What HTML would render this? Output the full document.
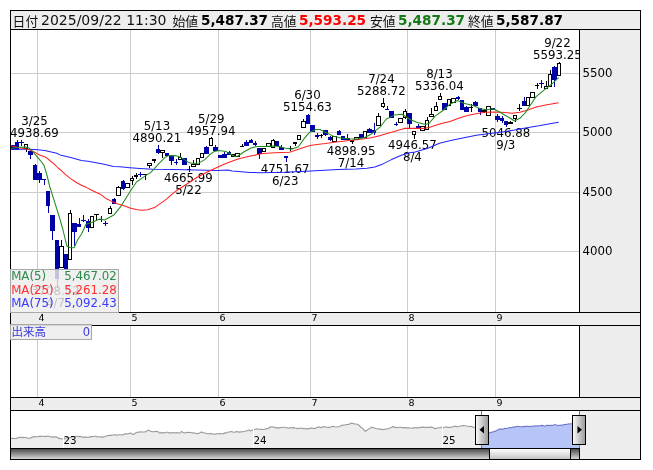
<!DOCTYPE html><html><head><meta charset="utf-8"><title>chart</title><style>html,body{margin:0;padding:0;background:#fff;width:653px;height:470px;overflow:hidden}svg{position:absolute;left:0;top:0;display:block}text{white-space:pre}</style></head><body>
<svg width="653" height="470" viewBox="0 0 653 470">
<defs><clipPath id="cp"><rect x="11" y="30" width="568" height="282"/></clipPath><clipPath id="cpn"><rect x="11" y="411" width="568" height="37"/></clipPath><linearGradient id="gsb" x1="0" y1="0" x2="0" y2="1"><stop offset="0" stop-color="#4a4a4a"/><stop offset="1" stop-color="#d8d8d8"/></linearGradient><linearGradient id="gth" x1="0" y1="0" x2="0" y2="1"><stop offset="0" stop-color="#ffffff"/><stop offset="1" stop-color="#c4c4c4"/></linearGradient><linearGradient id="ghd" x1="0" y1="0" x2="1" y2="0"><stop offset="0" stop-color="#f8f8f8"/><stop offset="1" stop-color="#9c9c9c"/></linearGradient></defs>
<g shape-rendering="crispEdges">
<rect x="11" y="11" width="629" height="18" fill="#ededed"/>
<rect x="11" y="30" width="568" height="282" fill="#fff"/>
<rect x="580" y="30" width="60" height="282" fill="#ededed"/>
<rect x="11" y="313" width="629" height="12" fill="#ededed"/>
<rect x="11" y="326" width="568" height="71" fill="#fff"/>
<rect x="580" y="326" width="60" height="71" fill="#ededed"/>
<rect x="11" y="398" width="629" height="12" fill="#ededed"/>
<rect x="11" y="411" width="568" height="37" fill="#fff"/>
<rect x="580" y="411" width="60" height="48" fill="#ededed"/>
<rect x="37" y="30" width="1" height="282" fill="#cccccc"/>
<rect x="37" y="326" width="1" height="71" fill="#cccccc"/>
<rect x="130" y="30" width="1" height="282" fill="#cccccc"/>
<rect x="130" y="326" width="1" height="71" fill="#cccccc"/>
<rect x="218" y="30" width="1" height="282" fill="#cccccc"/>
<rect x="218" y="326" width="1" height="71" fill="#cccccc"/>
<rect x="310" y="30" width="1" height="282" fill="#cccccc"/>
<rect x="310" y="326" width="1" height="71" fill="#cccccc"/>
<rect x="407" y="30" width="1" height="282" fill="#cccccc"/>
<rect x="407" y="326" width="1" height="71" fill="#cccccc"/>
<rect x="495" y="30" width="1" height="282" fill="#cccccc"/>
<rect x="495" y="326" width="1" height="71" fill="#cccccc"/>
<rect x="11" y="73" width="568" height="1" fill="#cccccc"/>
<rect x="11" y="132" width="568" height="1" fill="#cccccc"/>
<rect x="11" y="192" width="568" height="1" fill="#cccccc"/>
<rect x="11" y="251" width="568" height="1" fill="#cccccc"/>
</g>
<g clip-path="url(#cp)">
<text x="34.5" y="124.9" font-family="'DejaVu Sans', 'Liberation Sans', sans-serif" font-size="11.8" fill="#000" text-anchor="middle">3/25</text>
<text x="34.5" y="136.9" font-family="'DejaVu Sans', 'Liberation Sans', sans-serif" font-size="11.8" fill="#000" text-anchor="middle">4938.69</text>
<text x="156.9" y="130.2" font-family="'DejaVu Sans', 'Liberation Sans', sans-serif" font-size="11.8" fill="#000" text-anchor="middle">5/13</text>
<text x="156.9" y="142.2" font-family="'DejaVu Sans', 'Liberation Sans', sans-serif" font-size="11.8" fill="#000" text-anchor="middle">4890.21</text>
<text x="211.2" y="122.7" font-family="'DejaVu Sans', 'Liberation Sans', sans-serif" font-size="11.8" fill="#000" text-anchor="middle">5/29</text>
<text x="211.2" y="134.7" font-family="'DejaVu Sans', 'Liberation Sans', sans-serif" font-size="11.8" fill="#000" text-anchor="middle">4957.94</text>
<text x="307.4" y="99.1" font-family="'DejaVu Sans', 'Liberation Sans', sans-serif" font-size="11.8" fill="#000" text-anchor="middle">6/30</text>
<text x="307.4" y="111.1" font-family="'DejaVu Sans', 'Liberation Sans', sans-serif" font-size="11.8" fill="#000" text-anchor="middle">5154.63</text>
<text x="381.4" y="83.3" font-family="'DejaVu Sans', 'Liberation Sans', sans-serif" font-size="11.8" fill="#000" text-anchor="middle">7/24</text>
<text x="381.4" y="95.3" font-family="'DejaVu Sans', 'Liberation Sans', sans-serif" font-size="11.8" fill="#000" text-anchor="middle">5288.72</text>
<text x="439.4" y="78.2" font-family="'DejaVu Sans', 'Liberation Sans', sans-serif" font-size="11.8" fill="#000" text-anchor="middle">8/13</text>
<text x="439.4" y="90.2" font-family="'DejaVu Sans', 'Liberation Sans', sans-serif" font-size="11.8" fill="#000" text-anchor="middle">5336.04</text>
<text x="557.4" y="47.2" font-family="'DejaVu Sans', 'Liberation Sans', sans-serif" font-size="11.8" fill="#000" text-anchor="middle">9/22</text>
<text x="557.4" y="59.2" font-family="'DejaVu Sans', 'Liberation Sans', sans-serif" font-size="11.8" fill="#000" text-anchor="middle">5593.25</text>
<text x="188.4" y="182.4" font-family="'DejaVu Sans', 'Liberation Sans', sans-serif" font-size="11.8" fill="#000" text-anchor="middle">4665.99</text>
<text x="188.4" y="194.4" font-family="'DejaVu Sans', 'Liberation Sans', sans-serif" font-size="11.8" fill="#000" text-anchor="middle">5/22</text>
<text x="285.2" y="172.5" font-family="'DejaVu Sans', 'Liberation Sans', sans-serif" font-size="11.8" fill="#000" text-anchor="middle">4751.67</text>
<text x="285.2" y="184.5" font-family="'DejaVu Sans', 'Liberation Sans', sans-serif" font-size="11.8" fill="#000" text-anchor="middle">6/23</text>
<text x="351.1" y="154.5" font-family="'DejaVu Sans', 'Liberation Sans', sans-serif" font-size="11.8" fill="#000" text-anchor="middle">4898.95</text>
<text x="351.1" y="166.5" font-family="'DejaVu Sans', 'Liberation Sans', sans-serif" font-size="11.8" fill="#000" text-anchor="middle">7/14</text>
<text x="412.4" y="148.9" font-family="'DejaVu Sans', 'Liberation Sans', sans-serif" font-size="11.8" fill="#000" text-anchor="middle">4946.57</text>
<text x="412.4" y="160.9" font-family="'DejaVu Sans', 'Liberation Sans', sans-serif" font-size="11.8" fill="#000" text-anchor="middle">8/4</text>
<text x="505.8" y="136.8" font-family="'DejaVu Sans', 'Liberation Sans', sans-serif" font-size="11.8" fill="#000" text-anchor="middle">5046.88</text>
<text x="505.8" y="148.8" font-family="'DejaVu Sans', 'Liberation Sans', sans-serif" font-size="11.8" fill="#000" text-anchor="middle">9/3</text>
<text x="55.5" y="295.0" font-family="'DejaVu Sans', 'Liberation Sans', sans-serif" font-size="11.8" fill="#000" text-anchor="middle">3708.52</text>
<text x="55.5" y="307.0" font-family="'DejaVu Sans', 'Liberation Sans', sans-serif" font-size="11.8" fill="#000" text-anchor="middle">4/7</text>
<g shape-rendering="crispEdges">
<rect x="11" y="145" width="4" height="5" fill="#0000a8"/>
<rect x="17" y="140" width="1" height="2" fill="#0000a8"/>
<rect x="15" y="142" width="4" height="8" fill="#0000a8"/>
<rect x="21" y="140" width="1" height="2" fill="#0000a8"/>
<rect x="21" y="143" width="1" height="3" fill="#0000a8"/>
<rect x="19" y="142" width="5" height="1" fill="#0000a8"/>
<rect x="26" y="149" width="1" height="3" fill="#000"/>
<rect x="24" y="144" width="4" height="5" fill="#000"/>
<rect x="25" y="145" width="2" height="3" fill="#fff"/>
<rect x="30" y="155" width="1" height="4" fill="#0000a8"/>
<rect x="28" y="151" width="5" height="4" fill="#0000a8"/>
<rect x="35" y="164" width="1" height="1" fill="#0000a8"/>
<rect x="33" y="165" width="4" height="15" fill="#0000a8"/>
<rect x="39" y="171" width="1" height="2" fill="#0000a8"/>
<rect x="39" y="180" width="1" height="3" fill="#0000a8"/>
<rect x="37" y="173" width="5" height="7" fill="#0000a8"/>
<rect x="44" y="180" width="1" height="5" fill="#0000a8"/>
<rect x="42" y="179" width="4" height="1" fill="#0000a8"/>
<rect x="48" y="206" width="1" height="7" fill="#0000a8"/>
<rect x="46" y="191" width="4" height="15" fill="#0000a8"/>
<rect x="52" y="231" width="1" height="9" fill="#0000a8"/>
<rect x="50" y="215" width="5" height="16" fill="#0000a8"/>
<rect x="57" y="279" width="1" height="9" fill="#0000a8"/>
<rect x="55" y="240" width="4" height="39" fill="#0000a8"/>
<rect x="61" y="240" width="1" height="6" fill="#000"/>
<rect x="59" y="246" width="5" height="22" fill="#000"/>
<rect x="60" y="247" width="3" height="20" fill="#fff"/>
<rect x="64" y="254" width="4" height="15" fill="#0000a8"/>
<rect x="70" y="210" width="1" height="3" fill="#000"/>
<rect x="68" y="213" width="4" height="47" fill="#000"/>
<rect x="69" y="214" width="2" height="45" fill="#fff"/>
<rect x="74" y="232" width="1" height="14" fill="#0000a8"/>
<rect x="72" y="223" width="5" height="9" fill="#0000a8"/>
<rect x="79" y="218" width="1" height="6" fill="#0000a8"/>
<rect x="77" y="224" width="4" height="3" fill="#0000a8"/>
<rect x="83" y="215" width="1" height="5" fill="#0000a8"/>
<rect x="83" y="221" width="1" height="1" fill="#0000a8"/>
<rect x="81" y="220" width="5" height="1" fill="#0000a8"/>
<rect x="88" y="219" width="1" height="2" fill="#0000a8"/>
<rect x="88" y="228" width="1" height="4" fill="#0000a8"/>
<rect x="86" y="221" width="4" height="7" fill="#0000a8"/>
<rect x="90" y="216" width="4" height="12" fill="#000"/>
<rect x="91" y="217" width="2" height="10" fill="#fff"/>
<rect x="96" y="215" width="1" height="5" fill="#000"/>
<rect x="94" y="214" width="5" height="1" fill="#000"/>
<rect x="101" y="216" width="1" height="3" fill="#0000a8"/>
<rect x="101" y="220" width="1" height="2" fill="#0000a8"/>
<rect x="99" y="219" width="4" height="1" fill="#0000a8"/>
<rect x="105" y="221" width="1" height="2" fill="#0000a8"/>
<rect x="105" y="224" width="1" height="2" fill="#0000a8"/>
<rect x="103" y="223" width="5" height="1" fill="#0000a8"/>
<rect x="110" y="206" width="1" height="2" fill="#000"/>
<rect x="108" y="208" width="4" height="6" fill="#000"/>
<rect x="109" y="209" width="2" height="4" fill="#fff"/>
<rect x="114" y="198" width="1" height="1" fill="#0000a8"/>
<rect x="112" y="199" width="4" height="5" fill="#0000a8"/>
<rect x="118" y="186" width="1" height="1" fill="#000"/>
<rect x="116" y="187" width="5" height="9" fill="#000"/>
<rect x="117" y="188" width="3" height="7" fill="#fff"/>
<rect x="123" y="180" width="1" height="1" fill="#0000a8"/>
<rect x="123" y="189" width="1" height="1" fill="#0000a8"/>
<rect x="121" y="181" width="4" height="8" fill="#0000a8"/>
<rect x="125" y="183" width="5" height="5" fill="#000"/>
<rect x="126" y="184" width="3" height="3" fill="#fff"/>
<rect x="132" y="176" width="1" height="2" fill="#000"/>
<rect x="132" y="181" width="1" height="4" fill="#000"/>
<rect x="130" y="178" width="4" height="3" fill="#000"/>
<rect x="131" y="179" width="2" height="1" fill="#fff"/>
<rect x="136" y="173" width="1" height="2" fill="#000"/>
<rect x="136" y="177" width="1" height="2" fill="#000"/>
<rect x="134" y="175" width="4" height="2" fill="#000"/>
<rect x="140" y="172" width="1" height="2" fill="#0000a8"/>
<rect x="140" y="175" width="1" height="2" fill="#0000a8"/>
<rect x="138" y="174" width="5" height="1" fill="#0000a8"/>
<rect x="145" y="175" width="1" height="5" fill="#000"/>
<rect x="143" y="174" width="4" height="1" fill="#000"/>
<rect x="149" y="166" width="1" height="2" fill="#000"/>
<rect x="147" y="163" width="5" height="3" fill="#000"/>
<rect x="148" y="164" width="3" height="1" fill="#fff"/>
<rect x="154" y="161" width="1" height="2" fill="#000"/>
<rect x="152" y="159" width="4" height="2" fill="#000"/>
<rect x="158" y="145" width="1" height="4" fill="#0000a8"/>
<rect x="158" y="153" width="1" height="1" fill="#0000a8"/>
<rect x="156" y="149" width="4" height="4" fill="#0000a8"/>
<rect x="162" y="153" width="1" height="5" fill="#000"/>
<rect x="160" y="150" width="5" height="3" fill="#000"/>
<rect x="161" y="151" width="3" height="1" fill="#fff"/>
<rect x="165" y="153" width="4" height="3" fill="#0000a8"/>
<rect x="171" y="161" width="1" height="4" fill="#0000a8"/>
<rect x="169" y="156" width="5" height="5" fill="#0000a8"/>
<rect x="176" y="159" width="1" height="3" fill="#0000a8"/>
<rect x="176" y="163" width="1" height="2" fill="#0000a8"/>
<rect x="174" y="162" width="4" height="1" fill="#0000a8"/>
<rect x="180" y="153" width="1" height="4" fill="#000"/>
<rect x="178" y="157" width="4" height="3" fill="#000"/>
<rect x="179" y="158" width="2" height="1" fill="#fff"/>
<rect x="182" y="158" width="5" height="7" fill="#0000a8"/>
<rect x="189" y="166" width="1" height="3" fill="#000"/>
<rect x="189" y="170" width="1" height="2" fill="#000"/>
<rect x="187" y="169" width="4" height="1" fill="#000"/>
<rect x="193" y="160" width="1" height="4" fill="#000"/>
<rect x="191" y="164" width="5" height="3" fill="#000"/>
<rect x="192" y="165" width="3" height="1" fill="#fff"/>
<rect x="196" y="158" width="4" height="7" fill="#000"/>
<rect x="197" y="159" width="2" height="5" fill="#fff"/>
<rect x="200" y="153" width="4" height="5" fill="#000"/>
<rect x="201" y="154" width="2" height="3" fill="#fff"/>
<rect x="206" y="146" width="1" height="1" fill="#0000a8"/>
<rect x="204" y="147" width="5" height="7" fill="#0000a8"/>
<rect x="211" y="137" width="1" height="1" fill="#000"/>
<rect x="209" y="138" width="4" height="8" fill="#000"/>
<rect x="210" y="139" width="2" height="6" fill="#fff"/>
<rect x="215" y="145" width="1" height="2" fill="#0000a8"/>
<rect x="213" y="147" width="5" height="4" fill="#0000a8"/>
<rect x="218" y="155" width="4" height="3" fill="#0000a8"/>
<rect x="224" y="152" width="1" height="2" fill="#0000a8"/>
<rect x="222" y="154" width="5" height="4" fill="#0000a8"/>
<rect x="229" y="151" width="1" height="1" fill="#0000a8"/>
<rect x="227" y="152" width="4" height="3" fill="#0000a8"/>
<rect x="231" y="154" width="4" height="3" fill="#000"/>
<rect x="232" y="155" width="2" height="1" fill="#fff"/>
<rect x="235" y="153" width="5" height="4" fill="#000"/>
<rect x="236" y="154" width="3" height="2" fill="#fff"/>
<rect x="242" y="144" width="1" height="2" fill="#000"/>
<rect x="240" y="146" width="4" height="1" fill="#000"/>
<rect x="246" y="140" width="1" height="2" fill="#0000a8"/>
<rect x="244" y="142" width="5" height="4" fill="#0000a8"/>
<rect x="251" y="139" width="1" height="1" fill="#0000a8"/>
<rect x="249" y="140" width="4" height="3" fill="#0000a8"/>
<rect x="255" y="141" width="1" height="2" fill="#0000a8"/>
<rect x="255" y="145" width="1" height="1" fill="#0000a8"/>
<rect x="253" y="143" width="4" height="2" fill="#0000a8"/>
<rect x="259" y="154" width="1" height="5" fill="#0000a8"/>
<rect x="257" y="148" width="5" height="6" fill="#0000a8"/>
<rect x="262" y="148" width="4" height="4" fill="#000"/>
<rect x="263" y="149" width="2" height="2" fill="#fff"/>
<rect x="266" y="143" width="5" height="4" fill="#000"/>
<rect x="267" y="144" width="3" height="2" fill="#fff"/>
<rect x="273" y="139" width="1" height="1" fill="#000"/>
<rect x="271" y="140" width="4" height="8" fill="#000"/>
<rect x="272" y="141" width="2" height="6" fill="#fff"/>
<rect x="275" y="141" width="4" height="5" fill="#0000a8"/>
<rect x="281" y="145" width="1" height="2" fill="#0000a8"/>
<rect x="279" y="147" width="5" height="3" fill="#0000a8"/>
<rect x="286" y="158" width="1" height="4" fill="#0000a8"/>
<rect x="284" y="156" width="4" height="2" fill="#0000a8"/>
<rect x="290" y="146" width="1" height="2" fill="#000"/>
<rect x="290" y="149" width="1" height="2" fill="#000"/>
<rect x="288" y="148" width="5" height="1" fill="#000"/>
<rect x="295" y="144" width="1" height="2" fill="#000"/>
<rect x="293" y="142" width="4" height="2" fill="#000"/>
<rect x="297" y="135" width="4" height="5" fill="#000"/>
<rect x="298" y="136" width="2" height="3" fill="#fff"/>
<rect x="303" y="119" width="1" height="2" fill="#000"/>
<rect x="301" y="121" width="5" height="7" fill="#000"/>
<rect x="302" y="122" width="3" height="5" fill="#fff"/>
<rect x="308" y="114" width="1" height="1" fill="#0000a8"/>
<rect x="306" y="115" width="4" height="9" fill="#0000a8"/>
<rect x="310" y="125" width="5" height="7" fill="#0000a8"/>
<rect x="317" y="133" width="1" height="2" fill="#0000a8"/>
<rect x="317" y="137" width="1" height="2" fill="#0000a8"/>
<rect x="315" y="135" width="4" height="2" fill="#0000a8"/>
<rect x="321" y="134" width="1" height="1" fill="#000"/>
<rect x="321" y="136" width="1" height="2" fill="#000"/>
<rect x="319" y="135" width="4" height="1" fill="#000"/>
<rect x="325" y="135" width="1" height="1" fill="#0000a8"/>
<rect x="323" y="130" width="5" height="5" fill="#0000a8"/>
<rect x="330" y="136" width="1" height="1" fill="#0000a8"/>
<rect x="330" y="140" width="1" height="1" fill="#0000a8"/>
<rect x="328" y="137" width="4" height="3" fill="#0000a8"/>
<rect x="332" y="136" width="5" height="6" fill="#000"/>
<rect x="333" y="137" width="3" height="4" fill="#fff"/>
<rect x="339" y="130" width="1" height="1" fill="#0000a8"/>
<rect x="337" y="131" width="4" height="4" fill="#0000a8"/>
<rect x="341" y="136" width="4" height="4" fill="#0000a8"/>
<rect x="347" y="134" width="1" height="4" fill="#0000a8"/>
<rect x="345" y="138" width="5" height="2" fill="#0000a8"/>
<rect x="352" y="142" width="1" height="2" fill="#000"/>
<rect x="350" y="140" width="4" height="2" fill="#000"/>
<rect x="354" y="137" width="5" height="3" fill="#000"/>
<rect x="355" y="138" width="3" height="1" fill="#fff"/>
<rect x="359" y="134" width="4" height="4" fill="#0000a8"/>
<rect x="363" y="131" width="4" height="7" fill="#000"/>
<rect x="364" y="132" width="2" height="5" fill="#fff"/>
<rect x="369" y="128" width="1" height="1" fill="#0000a8"/>
<rect x="367" y="129" width="5" height="4" fill="#0000a8"/>
<rect x="374" y="123" width="1" height="7" fill="#0000a8"/>
<rect x="374" y="133" width="1" height="2" fill="#0000a8"/>
<rect x="372" y="130" width="4" height="3" fill="#0000a8"/>
<rect x="378" y="113" width="1" height="3" fill="#000"/>
<rect x="376" y="116" width="5" height="10" fill="#000"/>
<rect x="377" y="117" width="3" height="8" fill="#fff"/>
<rect x="383" y="98" width="1" height="5" fill="#000"/>
<rect x="383" y="107" width="1" height="1" fill="#000"/>
<rect x="381" y="103" width="4" height="4" fill="#000"/>
<rect x="382" y="104" width="2" height="2" fill="#fff"/>
<rect x="387" y="106" width="1" height="3" fill="#0000a8"/>
<rect x="385" y="109" width="4" height="1" fill="#0000a8"/>
<rect x="389" y="111" width="5" height="7" fill="#0000a8"/>
<rect x="396" y="122" width="1" height="2" fill="#0000a8"/>
<rect x="396" y="125" width="1" height="1" fill="#0000a8"/>
<rect x="394" y="124" width="4" height="1" fill="#0000a8"/>
<rect x="398" y="118" width="5" height="5" fill="#000"/>
<rect x="399" y="119" width="3" height="3" fill="#fff"/>
<rect x="405" y="109" width="1" height="2" fill="#000"/>
<rect x="405" y="118" width="1" height="1" fill="#000"/>
<rect x="403" y="111" width="4" height="7" fill="#000"/>
<rect x="404" y="112" width="2" height="5" fill="#fff"/>
<rect x="409" y="124" width="1" height="4" fill="#0000a8"/>
<rect x="407" y="113" width="5" height="11" fill="#0000a8"/>
<rect x="414" y="135" width="1" height="4" fill="#000"/>
<rect x="412" y="131" width="4" height="4" fill="#000"/>
<rect x="413" y="132" width="2" height="2" fill="#fff"/>
<rect x="418" y="124" width="1" height="2" fill="#0000a8"/>
<rect x="416" y="126" width="4" height="3" fill="#0000a8"/>
<rect x="420" y="126" width="5" height="5" fill="#000"/>
<rect x="421" y="127" width="3" height="3" fill="#fff"/>
<rect x="427" y="117" width="1" height="3" fill="#000"/>
<rect x="425" y="120" width="4" height="10" fill="#000"/>
<rect x="426" y="121" width="2" height="8" fill="#fff"/>
<rect x="431" y="108" width="1" height="6" fill="#000"/>
<rect x="429" y="114" width="5" height="3" fill="#000"/>
<rect x="430" y="115" width="3" height="1" fill="#fff"/>
<rect x="436" y="102" width="1" height="4" fill="#000"/>
<rect x="434" y="106" width="4" height="5" fill="#000"/>
<rect x="435" y="107" width="2" height="3" fill="#fff"/>
<rect x="440" y="93" width="1" height="3" fill="#000"/>
<rect x="438" y="96" width="4" height="4" fill="#000"/>
<rect x="439" y="97" width="2" height="2" fill="#fff"/>
<rect x="442" y="103" width="5" height="7" fill="#0000a8"/>
<rect x="447" y="99" width="4" height="7" fill="#000"/>
<rect x="448" y="100" width="2" height="5" fill="#fff"/>
<rect x="451" y="98" width="5" height="5" fill="#000"/>
<rect x="452" y="99" width="3" height="3" fill="#fff"/>
<rect x="458" y="96" width="1" height="1" fill="#0000a8"/>
<rect x="458" y="99" width="1" height="1" fill="#0000a8"/>
<rect x="456" y="97" width="4" height="2" fill="#0000a8"/>
<rect x="460" y="100" width="4" height="10" fill="#0000a8"/>
<rect x="466" y="106" width="1" height="1" fill="#0000a8"/>
<rect x="464" y="107" width="5" height="5" fill="#0000a8"/>
<rect x="471" y="104" width="1" height="3" fill="#000"/>
<rect x="471" y="108" width="1" height="4" fill="#000"/>
<rect x="469" y="107" width="4" height="1" fill="#000"/>
<rect x="475" y="101" width="1" height="1" fill="#0000a8"/>
<rect x="473" y="102" width="5" height="4" fill="#0000a8"/>
<rect x="480" y="112" width="1" height="3" fill="#0000a8"/>
<rect x="478" y="108" width="4" height="4" fill="#0000a8"/>
<rect x="484" y="109" width="1" height="1" fill="#000"/>
<rect x="484" y="112" width="1" height="1" fill="#000"/>
<rect x="482" y="110" width="4" height="2" fill="#000"/>
<rect x="486" y="106" width="5" height="10" fill="#000"/>
<rect x="487" y="107" width="3" height="8" fill="#fff"/>
<rect x="491" y="108" width="4" height="2" fill="#0000a8"/>
<rect x="497" y="114" width="1" height="2" fill="#0000a8"/>
<rect x="497" y="120" width="1" height="2" fill="#0000a8"/>
<rect x="495" y="116" width="5" height="4" fill="#0000a8"/>
<rect x="502" y="116" width="1" height="2" fill="#0000a8"/>
<rect x="502" y="121" width="1" height="2" fill="#0000a8"/>
<rect x="500" y="118" width="4" height="3" fill="#0000a8"/>
<rect x="506" y="125" width="1" height="2" fill="#0000a8"/>
<rect x="504" y="121" width="4" height="4" fill="#0000a8"/>
<rect x="510" y="121" width="1" height="1" fill="#000"/>
<rect x="508" y="122" width="5" height="2" fill="#000"/>
<rect x="515" y="119" width="1" height="3" fill="#000"/>
<rect x="513" y="115" width="4" height="4" fill="#000"/>
<rect x="514" y="116" width="2" height="2" fill="#fff"/>
<rect x="519" y="104" width="1" height="4" fill="#000"/>
<rect x="519" y="109" width="1" height="2" fill="#000"/>
<rect x="517" y="108" width="5" height="1" fill="#000"/>
<rect x="524" y="97" width="1" height="4" fill="#0000a8"/>
<rect x="522" y="101" width="4" height="5" fill="#0000a8"/>
<rect x="526" y="97" width="4" height="9" fill="#000"/>
<rect x="527" y="98" width="2" height="7" fill="#fff"/>
<rect x="530" y="92" width="5" height="6" fill="#000"/>
<rect x="531" y="93" width="3" height="4" fill="#fff"/>
<rect x="537" y="83" width="1" height="2" fill="#000"/>
<rect x="537" y="86" width="1" height="3" fill="#000"/>
<rect x="535" y="85" width="4" height="1" fill="#000"/>
<rect x="541" y="80" width="1" height="3" fill="#0000a8"/>
<rect x="541" y="84" width="1" height="4" fill="#0000a8"/>
<rect x="539" y="83" width="5" height="1" fill="#0000a8"/>
<rect x="546" y="81" width="1" height="5" fill="#000"/>
<rect x="544" y="86" width="4" height="3" fill="#000"/>
<rect x="545" y="87" width="2" height="1" fill="#fff"/>
<rect x="550" y="70" width="1" height="4" fill="#000"/>
<rect x="548" y="74" width="4" height="13" fill="#000"/>
<rect x="549" y="75" width="2" height="11" fill="#fff"/>
<rect x="554" y="66" width="1" height="1" fill="#0000a8"/>
<rect x="554" y="80" width="1" height="7" fill="#0000a8"/>
<rect x="552" y="67" width="5" height="13" fill="#0000a8"/>
<rect x="559" y="62" width="1" height="1" fill="#000"/>
<rect x="557" y="63" width="4" height="13" fill="#000"/>
<rect x="558" y="64" width="2" height="11" fill="#fff"/>
</g>
<polyline points="10.0,149.2 22.9,149.2 30.0,149.3 37.7,149.8 44.7,150.4 49.1,151.4 56.8,153.3 60.0,154.9 70.7,157.6 81.4,160.5 87.9,161.3 92.2,161.9 102.9,164.1 113.6,166.4 120.0,166.8 130.0,167.7 140.0,168.5 152.9,169.3 174.3,169.6 195.8,170.1 217.2,170.5 228.0,169.9 232.0,171.1 238.6,171.6 250.0,172.4 259.6,172.7 284.1,172.3 311.1,171.0 338.0,169.4 355.9,169.1 367.0,168.2 374.9,167.0 382.9,163.9 391.5,159.6 401.3,155.3 408.6,152.9 415.0,152.0 427.3,148.4 439.5,143.3 451.8,140.2 464.0,137.8 476.3,135.3 490.0,133.6 502.3,132.0 514.5,130.1 526.8,127.7 539.0,125.8 551.3,123.6 558.7,122.2" fill="none" stroke="#2222ff" stroke-width="1.05" stroke-linejoin="round"/>
<polyline points="10.0,146.0 13.2,146.3 19.2,147.7 25.2,148.8 30.0,150.1 33.8,151.7 37.7,153.9 40.2,155.3 44.0,156.4 46.6,157.8 50.4,161.0 54.3,164.1 58.1,168.0 61.9,171.2 65.3,174.3 70.6,178.6 76.0,182.3 81.3,185.2 86.6,187.6 92.7,190.7 100.3,194.2 106.4,198.8 111.8,201.4 117.9,204.1 123.3,205.5 130.0,208.0 136.1,209.5 141.5,210.3 147.6,209.7 154.5,207.6 160.6,203.4 166.8,198.8 172.9,193.4 178.0,189.7 187.6,183.5 197.1,177.3 206.7,172.2 216.3,167.7 225.8,163.4 238.0,159.1 250.3,156.1 262.5,153.6 274.8,152.7 289.5,152.2 299.3,149.1 306.6,146.6 311.5,145.2 325.0,143.6 334.5,142.2 347.0,140.8 359.0,139.6 371.3,137.8 378.6,135.9 392.3,132.1 404.5,128.4 414.3,128.4 422.9,128.4 429.0,127.4 441.3,123.5 450.0,121.5 459.2,118.0 468.4,115.2 477.6,113.4 484.9,112.3 496.0,112.0 505.1,112.6 512.0,113.3 520.0,112.3 528.5,109.8 537.0,106.8 545.6,105.1 550.0,104.3 558.6,102.8" fill="none" stroke="#ff2222" stroke-width="1.05" stroke-linejoin="round"/>
<polyline points="10.0,148.6 12.5,148.3 19.2,147.3 25.2,146.9 28.9,148.0 32.6,151.4 36.4,155.9 40.2,160.3 44.0,165.4 46.9,175.0 49.6,186.0 54.4,201.3 59.2,216.6 61.0,223.0 63.0,230.0 66.9,246.2 69.9,247.4 74.1,247.7 77.4,240.2 81.8,233.5 86.0,224.3 91.5,222.4 95.2,220.9 99.7,219.1 104.6,220.0 114.2,214.7 120.6,206.7 130.1,191.5 136.5,182.0 144.5,176.4 150.9,172.4 158.9,163.6 165.3,157.2 168.5,155.6 175.0,155.6 178.0,156.2 183.7,159.1 188.5,162.4 193.3,163.4 199.0,162.9 204.8,159.6 209.6,154.8 214.4,151.4 219.1,150.5 225.8,151.4 231.6,154.8 235.0,156.4 238.0,156.0 244.1,151.8 250.5,148.3 256.9,146.4 264.9,146.4 272.8,145.9 279.2,146.4 285.6,148.3 292.0,149.1 298.4,146.7 304.7,137.9 309.5,132.3 315.9,129.5 320.0,129.5 326.4,132.7 332.8,135.9 340.7,138.0 348.7,138.8 356.7,139.1 364.7,137.5 371.0,134.3 380.0,127.2 386.1,119.2 394.7,114.9 402.0,114.3 410.6,119.8 416.8,122.3 425.3,124.5 429.0,123.5 435.1,116.1 443.7,110.0 450.0,104.2 457.4,100.5 463.8,103.3 473.0,105.6 480.3,108.8 486.8,109.7 493.2,108.8 498.7,111.5 505.1,115.2 510.0,118.0 514.4,121.0 519.8,118.3 525.2,112.9 530.6,104.7 536.1,96.6 541.5,92.1 546.9,87.9 552.3,83.6 558.7,77.6" fill="none" stroke="#228b22" stroke-width="1.05" stroke-linejoin="round"/>
</g>
<text x="582.5" y="77.2" font-family="'DejaVu Sans', 'Liberation Sans', sans-serif" font-size="11.8" fill="#000">5500</text>
<text x="582.5" y="136.2" font-family="'DejaVu Sans', 'Liberation Sans', sans-serif" font-size="11.8" fill="#000">5000</text>
<text x="582.5" y="196.2" font-family="'DejaVu Sans', 'Liberation Sans', sans-serif" font-size="11.8" fill="#000">4500</text>
<text x="582.5" y="255.2" font-family="'DejaVu Sans', 'Liberation Sans', sans-serif" font-size="11.8" fill="#000">4000</text>
<text x="38.5" y="321" font-family="'DejaVu Sans', 'Liberation Sans', sans-serif" font-size="9.5" fill="#000">4</text>
<text x="38.5" y="406" font-family="'DejaVu Sans', 'Liberation Sans', sans-serif" font-size="9.5" fill="#000">4</text>
<text x="131.5" y="321" font-family="'DejaVu Sans', 'Liberation Sans', sans-serif" font-size="9.5" fill="#000">5</text>
<text x="131.5" y="406" font-family="'DejaVu Sans', 'Liberation Sans', sans-serif" font-size="9.5" fill="#000">5</text>
<text x="219.5" y="321" font-family="'DejaVu Sans', 'Liberation Sans', sans-serif" font-size="9.5" fill="#000">6</text>
<text x="219.5" y="406" font-family="'DejaVu Sans', 'Liberation Sans', sans-serif" font-size="9.5" fill="#000">6</text>
<text x="311.5" y="321" font-family="'DejaVu Sans', 'Liberation Sans', sans-serif" font-size="9.5" fill="#000">7</text>
<text x="311.5" y="406" font-family="'DejaVu Sans', 'Liberation Sans', sans-serif" font-size="9.5" fill="#000">7</text>
<text x="408.5" y="321" font-family="'DejaVu Sans', 'Liberation Sans', sans-serif" font-size="9.5" fill="#000">8</text>
<text x="408.5" y="406" font-family="'DejaVu Sans', 'Liberation Sans', sans-serif" font-size="9.5" fill="#000">8</text>
<text x="496.5" y="321" font-family="'DejaVu Sans', 'Liberation Sans', sans-serif" font-size="9.5" fill="#000">9</text>
<text x="496.5" y="406" font-family="'DejaVu Sans', 'Liberation Sans', sans-serif" font-size="9.5" fill="#000">9</text>
<g clip-path="url(#cpn)">
<polygon points="11.0,448 11.0,438.6 12.6,438.3 14.2,438.5 15.8,438.5 17.4,437.9 18.9,437.5 20.5,437.3 22.1,437.6 23.7,437.3 25.3,437.7 26.8,437.8 28.4,438.2 29.9,438.2 31.4,437.4 33.0,437.0 34.5,436.6 36.0,436.8 37.5,436.8 39.1,436.2 40.6,436.4 42.1,436.2 43.7,436.2 45.2,436.6 46.7,436.1 48.3,436.2 49.8,436.4 51.3,437.1 52.9,437.1 54.4,436.9 55.9,436.8 57.5,437.6 59.0,438.4 60.5,438.6 62.1,438.7 63.6,439.2 65.1,438.6 66.7,437.7 68.2,437.7 69.8,437.7 71.3,437.2 72.8,436.6 74.3,436.5 75.9,436.3 77.4,436.3 78.9,436.6 80.4,436.4 82.0,436.9 83.5,437.4 85.0,437.1 86.5,437.0 88.1,437.5 89.6,436.9 91.1,436.6 92.7,436.8 94.2,436.3 95.8,436.3 97.3,437.0 98.8,436.8 100.4,436.8 101.9,437.1 103.4,437.1 105.0,436.6 106.5,436.0 108.0,435.5 109.6,435.4 111.1,435.4 112.6,435.0 114.1,434.9 115.7,434.7 117.2,435.2 118.7,434.8 120.3,434.7 121.8,435.0 123.3,434.6 124.8,433.9 126.4,433.7 127.9,434.0 129.4,433.2 131.0,433.1 132.5,434.4 134.0,434.0 135.6,433.0 137.1,432.3 138.7,432.1 140.2,431.8 141.7,432.0 143.3,432.0 144.8,431.9 146.3,431.4 147.9,430.1 149.4,430.7 150.9,431.3 152.4,431.8 153.9,431.7 155.5,431.3 157.0,431.6 158.5,431.8 160.1,433.3 161.6,432.4 163.2,432.8 164.7,432.9 166.2,432.3 167.8,432.2 169.3,432.9 170.8,432.7 172.4,432.9 173.9,432.4 175.4,433.0 176.9,432.5 178.4,433.1 180.0,432.8 181.5,431.4 183.0,432.5 184.6,433.0 186.1,432.5 187.7,432.3 189.2,432.5 190.7,432.4 192.3,432.9 193.8,432.7 195.4,433.2 196.9,433.6 198.4,433.4 200.0,432.8 201.5,431.9 203.1,432.6 204.6,433.0 206.1,433.3 207.7,433.8 209.2,433.8 210.7,433.6 212.2,433.8 213.8,434.2 215.3,434.1 216.8,433.8 218.4,433.8 219.9,433.5 221.4,433.7 222.9,433.7 224.5,432.9 226.0,433.1 227.5,432.2 229.1,432.0 230.6,431.6 232.1,431.8 233.7,432.2 235.2,432.1 236.8,431.4 238.3,431.9 239.8,432.1 241.4,431.7 242.9,431.8 244.5,431.3 246.0,431.0 247.5,430.6 249.0,429.9 250.6,431.0 252.1,430.3 253.6,429.6 255.1,429.3 256.7,428.8 258.2,429.3 259.8,429.3 261.3,429.4 262.8,429.5 264.4,429.2 265.9,428.9 267.4,428.5 269.0,428.1 270.5,426.7 272.0,427.0 273.5,427.1 275.1,427.5 276.6,427.9 278.1,427.7 279.7,427.9 281.2,427.5 282.7,427.2 284.2,427.3 285.8,427.8 287.3,427.7 288.8,428.2 290.4,427.4 291.9,428.0 293.4,427.6 295.0,428.0 296.5,428.2 298.0,428.6 299.5,428.3 301.1,428.1 302.6,428.7 304.1,428.3 305.7,429.1 307.2,428.5 308.7,428.9 310.3,428.1 311.8,428.0 313.3,428.5 314.9,428.4 316.4,427.8 317.9,427.1 319.4,427.1 321.0,427.7 322.5,427.1 324.0,426.6 325.6,427.0 327.1,427.3 328.6,427.4 330.1,427.2 331.7,426.7 333.2,426.2 334.7,426.7 336.3,427.0 337.8,426.8 339.3,426.5 340.9,425.8 342.4,425.1 343.9,425.2 345.5,424.8 347.0,424.5 348.5,424.5 350.0,423.7 351.6,423.0 353.1,423.5 354.7,424.0 356.2,424.0 357.8,424.6 359.3,425.4 360.8,427.4 362.4,428.1 363.9,429.8 365.4,431.4 366.9,430.2 368.4,429.1 370.0,428.4 371.5,427.3 373.0,427.5 374.6,428.1 376.1,428.5 377.6,428.8 379.2,429.1 380.7,429.1 382.3,429.8 383.8,429.4 385.3,429.2 386.9,428.7 388.4,428.8 389.9,427.9 391.5,427.4 393.0,426.6 394.5,427.4 396.1,427.3 397.6,427.8 399.1,427.3 400.7,427.2 402.2,427.6 403.8,427.5 405.3,427.6 406.8,428.1 408.4,427.7 409.9,428.0 411.4,428.2 413.0,427.9 414.5,427.7 416.0,427.6 417.5,428.2 419.1,427.5 420.6,427.4 422.1,427.4 423.7,427.1 425.2,427.6 426.7,427.3 428.3,427.5 429.8,427.1 431.3,427.1 432.9,427.4 434.4,428.6 435.9,428.4 437.5,428.0 439.0,427.8 440.5,427.7 442.1,427.1 443.6,427.6 445.1,427.3 446.7,426.9 448.2,427.5 449.8,427.4 451.3,427.3 452.8,426.7 454.4,426.3 455.9,426.4 457.4,426.8 459.0,426.5 460.5,426.0 462.0,425.8 463.5,425.6 465.1,425.7 466.6,426.0 468.3,426.3 470.0,426.6 471.5,426.3 473.1,427.2 474.6,427.2 476.2,427.7 477.8,427.5 479.4,427.5 481.0,427.8 481.0,448" fill="#ededed" stroke="none"/>
<polygon points="481.0,448 481.0,427.8 483.0,429.9 485.0,430.7 486.7,432.2 488.4,433.7 490.2,432.4 492.1,432.3 493.9,431.5 495.7,431.1 497.6,429.9 499.4,429.0 501.2,429.1 503.1,429.2 504.9,428.3 506.8,428.5 508.3,428.0 509.9,427.5 511.4,427.7 512.9,427.0 514.5,427.1 516.0,426.7 517.5,426.3 519.0,426.5 520.5,426.8 522.1,426.8 523.6,426.4 525.1,426.7 526.6,426.1 528.2,426.5 529.7,426.2 531.2,426.7 532.8,426.0 534.3,426.0 535.8,425.7 537.4,426.1 538.9,425.7 540.4,425.6 542.0,425.4 543.5,425.8 545.0,426.2 546.6,425.4 548.1,425.2 549.6,425.6 551.2,425.2 552.7,425.5 554.2,424.7 555.8,424.7 557.3,425.2 558.8,425.6 560.4,425.1 561.9,425.5 563.4,424.6 565.0,424.5 566.5,424.4 568.0,423.9 569.6,424.0 571.1,423.8 572.7,423.7 574.3,424.3 575.8,424.1 577.4,424.0 579.0,424.0 579.0,448" fill="#b6c4f7" stroke="none"/>
<polyline points="11.0,438.6 12.6,438.3 14.2,438.5 15.8,438.5 17.4,437.9 18.9,437.5 20.5,437.3 22.1,437.6 23.7,437.3 25.3,437.7 26.8,437.8 28.4,438.2 29.9,438.2 31.4,437.4 33.0,437.0 34.5,436.6 36.0,436.8 37.5,436.8 39.1,436.2 40.6,436.4 42.1,436.2 43.7,436.2 45.2,436.6 46.7,436.1 48.3,436.2 49.8,436.4 51.3,437.1 52.9,437.1 54.4,436.9 55.9,436.8 57.5,437.6 59.0,438.4 60.5,438.6 62.1,438.7 63.6,439.2 65.1,438.6 66.7,437.7 68.2,437.7 69.8,437.7 71.3,437.2 72.8,436.6 74.3,436.5 75.9,436.3 77.4,436.3 78.9,436.6 80.4,436.4 82.0,436.9 83.5,437.4 85.0,437.1 86.5,437.0 88.1,437.5 89.6,436.9 91.1,436.6 92.7,436.8 94.2,436.3 95.8,436.3 97.3,437.0 98.8,436.8 100.4,436.8 101.9,437.1 103.4,437.1 105.0,436.6 106.5,436.0 108.0,435.5 109.6,435.4 111.1,435.4 112.6,435.0 114.1,434.9 115.7,434.7 117.2,435.2 118.7,434.8 120.3,434.7 121.8,435.0 123.3,434.6 124.8,433.9 126.4,433.7 127.9,434.0 129.4,433.2 131.0,433.1 132.5,434.4 134.0,434.0 135.6,433.0 137.1,432.3 138.7,432.1 140.2,431.8 141.7,432.0 143.3,432.0 144.8,431.9 146.3,431.4 147.9,430.1 149.4,430.7 150.9,431.3 152.4,431.8 153.9,431.7 155.5,431.3 157.0,431.6 158.5,431.8 160.1,433.3 161.6,432.4 163.2,432.8 164.7,432.9 166.2,432.3 167.8,432.2 169.3,432.9 170.8,432.7 172.4,432.9 173.9,432.4 175.4,433.0 176.9,432.5 178.4,433.1 180.0,432.8 181.5,431.4 183.0,432.5 184.6,433.0 186.1,432.5 187.7,432.3 189.2,432.5 190.7,432.4 192.3,432.9 193.8,432.7 195.4,433.2 196.9,433.6 198.4,433.4 200.0,432.8 201.5,431.9 203.1,432.6 204.6,433.0 206.1,433.3 207.7,433.8 209.2,433.8 210.7,433.6 212.2,433.8 213.8,434.2 215.3,434.1 216.8,433.8 218.4,433.8 219.9,433.5 221.4,433.7 222.9,433.7 224.5,432.9 226.0,433.1 227.5,432.2 229.1,432.0 230.6,431.6 232.1,431.8 233.7,432.2 235.2,432.1 236.8,431.4 238.3,431.9 239.8,432.1 241.4,431.7 242.9,431.8 244.5,431.3 246.0,431.0 247.5,430.6 249.0,429.9 250.6,431.0 252.1,430.3 253.6,429.6 255.1,429.3 256.7,428.8 258.2,429.3 259.8,429.3 261.3,429.4 262.8,429.5 264.4,429.2 265.9,428.9 267.4,428.5 269.0,428.1 270.5,426.7 272.0,427.0 273.5,427.1 275.1,427.5 276.6,427.9 278.1,427.7 279.7,427.9 281.2,427.5 282.7,427.2 284.2,427.3 285.8,427.8 287.3,427.7 288.8,428.2 290.4,427.4 291.9,428.0 293.4,427.6 295.0,428.0 296.5,428.2 298.0,428.6 299.5,428.3 301.1,428.1 302.6,428.7 304.1,428.3 305.7,429.1 307.2,428.5 308.7,428.9 310.3,428.1 311.8,428.0 313.3,428.5 314.9,428.4 316.4,427.8 317.9,427.1 319.4,427.1 321.0,427.7 322.5,427.1 324.0,426.6 325.6,427.0 327.1,427.3 328.6,427.4 330.1,427.2 331.7,426.7 333.2,426.2 334.7,426.7 336.3,427.0 337.8,426.8 339.3,426.5 340.9,425.8 342.4,425.1 343.9,425.2 345.5,424.8 347.0,424.5 348.5,424.5 350.0,423.7 351.6,423.0 353.1,423.5 354.7,424.0 356.2,424.0 357.8,424.6 359.3,425.4 360.8,427.4 362.4,428.1 363.9,429.8 365.4,431.4 366.9,430.2 368.4,429.1 370.0,428.4 371.5,427.3 373.0,427.5 374.6,428.1 376.1,428.5 377.6,428.8 379.2,429.1 380.7,429.1 382.3,429.8 383.8,429.4 385.3,429.2 386.9,428.7 388.4,428.8 389.9,427.9 391.5,427.4 393.0,426.6 394.5,427.4 396.1,427.3 397.6,427.8 399.1,427.3 400.7,427.2 402.2,427.6 403.8,427.5 405.3,427.6 406.8,428.1 408.4,427.7 409.9,428.0 411.4,428.2 413.0,427.9 414.5,427.7 416.0,427.6 417.5,428.2 419.1,427.5 420.6,427.4 422.1,427.4 423.7,427.1 425.2,427.6 426.7,427.3 428.3,427.5 429.8,427.1 431.3,427.1 432.9,427.4 434.4,428.6 435.9,428.4 437.5,428.0 439.0,427.8 440.5,427.7 442.1,427.1 443.6,427.6 445.1,427.3 446.7,426.9 448.2,427.5 449.8,427.4 451.3,427.3 452.8,426.7 454.4,426.3 455.9,426.4 457.4,426.8 459.0,426.5 460.5,426.0 462.0,425.8 463.5,425.6 465.1,425.7 466.6,426.0 468.3,426.3 470.0,426.6 471.5,426.3 473.1,427.2 474.6,427.2 476.2,427.7 477.8,427.5 479.4,427.5 481.0,427.8" fill="none" stroke="#999999" stroke-width="1.1" stroke-linejoin="round"/>
<polyline points="481.0,427.8 483.0,429.9 485.0,430.7 486.7,432.2 488.4,433.7 490.2,432.4 492.1,432.3 493.9,431.5 495.7,431.1 497.6,429.9 499.4,429.0 501.2,429.1 503.1,429.2 504.9,428.3 506.8,428.5 508.3,428.0 509.9,427.5 511.4,427.7 512.9,427.0 514.5,427.1 516.0,426.7 517.5,426.3 519.0,426.5 520.5,426.8 522.1,426.8 523.6,426.4 525.1,426.7 526.6,426.1 528.2,426.5 529.7,426.2 531.2,426.7 532.8,426.0 534.3,426.0 535.8,425.7 537.4,426.1 538.9,425.7 540.4,425.6 542.0,425.4 543.5,425.8 545.0,426.2 546.6,425.4 548.1,425.2 549.6,425.6 551.2,425.2 552.7,425.5 554.2,424.7 555.8,424.7 557.3,425.2 558.8,425.6 560.4,425.1 561.9,425.5 563.4,424.6 565.0,424.5 566.5,424.4 568.0,423.9 569.6,424.0 571.1,423.8 572.7,423.7 574.3,424.3 575.8,424.1 577.4,424.0 579.0,424.0" fill="none" stroke="#6f78cc" stroke-width="1.1" stroke-linejoin="round"/>
</g>
<g shape-rendering="crispEdges">
<rect x="63" y="418" width="1" height="30" fill="#ffffff"/>
<rect x="253" y="418" width="1" height="30" fill="#ffffff"/>
<rect x="442" y="418" width="1" height="30" fill="#ffffff"/>
</g>
<text x="63.4" y="443.9" font-family="'DejaVu Sans', 'Liberation Sans', sans-serif" font-size="10.3" fill="#000">23</text>
<text x="253.4" y="443.9" font-family="'DejaVu Sans', 'Liberation Sans', sans-serif" font-size="10.3" fill="#000">24</text>
<text x="442.4" y="443.9" font-family="'DejaVu Sans', 'Liberation Sans', sans-serif" font-size="10.3" fill="#000">25</text>
<g shape-rendering="crispEdges">
<rect x="11" y="449" width="568" height="10" fill="url(#gsb)"/>
<rect x="490" y="449" width="80" height="10" fill="url(#gth)"/>
<rect x="489" y="448" width="1" height="11" fill="#000"/>
<rect x="570" y="448" width="1" height="11" fill="#000"/>
<rect x="10" y="448" width="570" height="1" fill="#000"/>
<rect x="579" y="448" width="1" height="11" fill="#000"/>
<rect x="481" y="411" width="1" height="37" fill="#1aa0d8"/>
<rect x="579" y="411" width="1" height="37" fill="#1aa0d8"/>
<rect x="475" y="415" width="14" height="30" fill="#000"/>
<rect x="476" y="416" width="12" height="28" fill="url(#ghd)"/>
<rect x="572" y="415" width="14" height="30" fill="#000"/>
<rect x="573" y="416" width="12" height="28" fill="url(#ghd)"/>
</g>
<polygon points="484,426 484,433.5 479.5,429.75" fill="#000"/>
<polygon points="577.5,426 577.5,433.5 582,429.75" fill="#000"/>
<g shape-rendering="crispEdges">
<rect x="10" y="10" width="631" height="1" fill="#000"/>
<rect x="10" y="29" width="631" height="1" fill="#000"/>
<rect x="10" y="312" width="631" height="1" fill="#000"/>
<rect x="10" y="325" width="631" height="1" fill="#000"/>
<rect x="10" y="397" width="631" height="1" fill="#000"/>
<rect x="10" y="410" width="631" height="1" fill="#000"/>
<rect x="10" y="459" width="631" height="1" fill="#000"/>
<rect x="10" y="10" width="1" height="450" fill="#000"/>
<rect x="640" y="10" width="1" height="450" fill="#000"/>
<rect x="579" y="30" width="1" height="282" fill="#000"/>
<rect x="579" y="326" width="1" height="71" fill="#000"/>
</g>
<g shape-rendering="crispEdges">
<rect x="10.5" y="269.5" width="108" height="43" fill="#ededed" fill-opacity="0.82" stroke="#a8a8a8" stroke-width="1"/>
<rect x="10.5" y="324.5" width="81" height="15" fill="#ededed" fill-opacity="0.9" stroke="#a8a8a8" stroke-width="1"/>
</g>
<text x="11.2" y="280" font-family="'DejaVu Sans', 'Liberation Sans', sans-serif" font-size="11.8" fill="#2a8a4a">MA(5)</text>
<text x="116.8" y="280" font-family="'DejaVu Sans', 'Liberation Sans', sans-serif" font-size="11.8" fill="#2a8a4a" text-anchor="end">5,467.02</text>
<text x="11.2" y="293.5" font-family="'DejaVu Sans', 'Liberation Sans', sans-serif" font-size="11.8" fill="#ff3030">MA(25)</text>
<text x="116.8" y="293.5" font-family="'DejaVu Sans', 'Liberation Sans', sans-serif" font-size="11.8" fill="#ff3030" text-anchor="end">5,261.28</text>
<text x="11.2" y="306.7" font-family="'DejaVu Sans', 'Liberation Sans', sans-serif" font-size="11.8" fill="#3a3aff">MA(75)</text>
<text x="116.8" y="306.7" font-family="'DejaVu Sans', 'Liberation Sans', sans-serif" font-size="11.8" fill="#3a3aff" text-anchor="end">5,092.43</text>
<text x="11.5" y="335.5" font-family="'Liberation Sans', 'Noto Sans CJK JP', sans-serif" font-size="11.5" fill="#3838d8">出来高</text>
<text x="90" y="335.5" font-family="'DejaVu Sans', 'Liberation Sans', sans-serif" font-size="11.5" fill="#3838d8" text-anchor="end">0</text>
<text x="12.6" y="25.8" font-family="'Liberation Sans', 'Noto Sans CJK JP', sans-serif" font-size="12.8" fill="#111">日付</text>
<text x="41" y="24.8" font-family="'DejaVu Sans', 'Liberation Sans', sans-serif" font-size="14" fill="#111">2025/09/22 11:30</text>
<text x="172.5" y="25.8" font-family="'Liberation Sans', 'Noto Sans CJK JP', sans-serif" font-size="12.8" fill="#111">始値</text>
<text x="201" y="25.4" font-family="'DejaVu Sans', 'Liberation Sans', sans-serif" font-size="13.6" fill="#000" font-weight="bold">5,487.37</text>
<text x="271" y="25.8" font-family="'Liberation Sans', 'Noto Sans CJK JP', sans-serif" font-size="12.8" fill="#111">高値</text>
<text x="299" y="25.4" font-family="'DejaVu Sans', 'Liberation Sans', sans-serif" font-size="13.6" fill="#ff0000" font-weight="bold">5,593.25</text>
<text x="370" y="25.8" font-family="'Liberation Sans', 'Noto Sans CJK JP', sans-serif" font-size="12.8" fill="#111">安値</text>
<text x="398" y="25.4" font-family="'DejaVu Sans', 'Liberation Sans', sans-serif" font-size="13.6" fill="#157a15" font-weight="bold">5,487.37</text>
<text x="468" y="25.8" font-family="'Liberation Sans', 'Noto Sans CJK JP', sans-serif" font-size="12.8" fill="#111">終値</text>
<text x="496" y="25.4" font-family="'DejaVu Sans', 'Liberation Sans', sans-serif" font-size="13.6" fill="#000" font-weight="bold">5,587.87</text>
</svg></body></html>
